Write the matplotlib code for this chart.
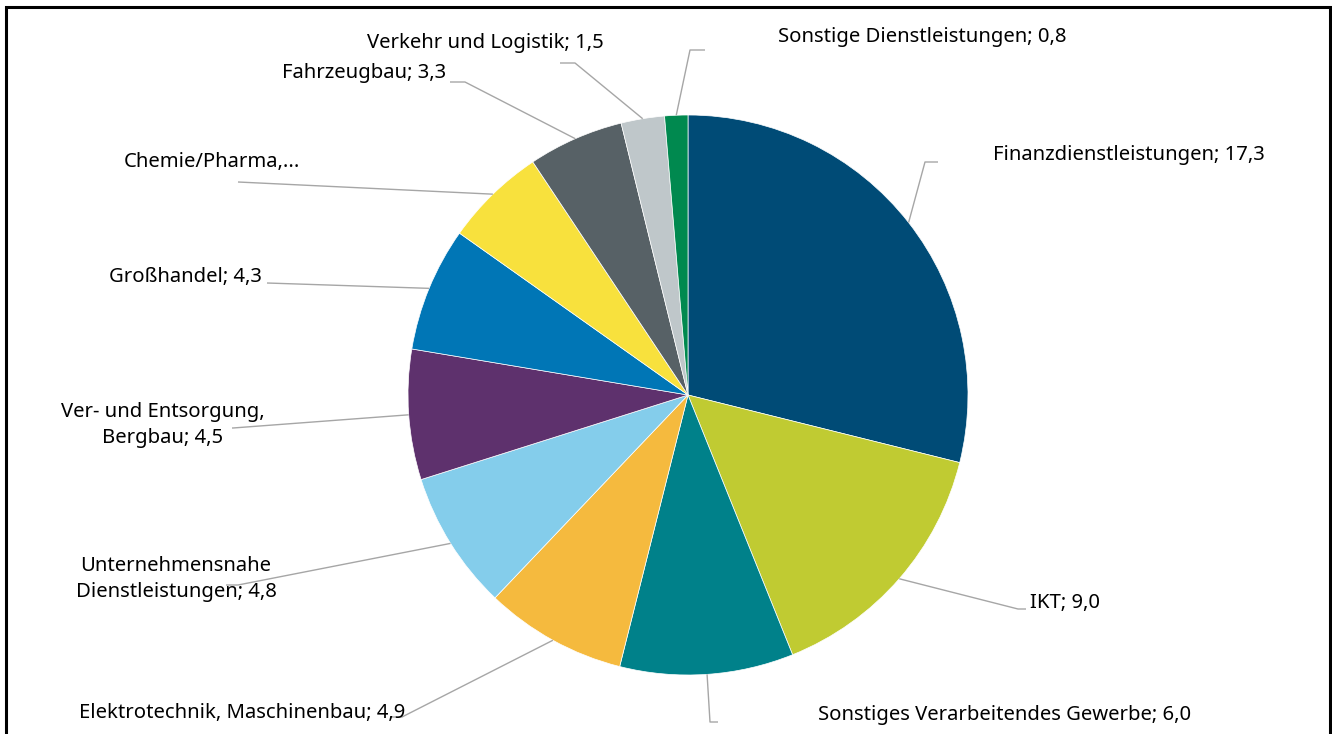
import numpy as np
import matplotlib
matplotlib.use('Agg')
import matplotlib.pyplot as plt
from matplotlib.patches import Rectangle

# Anteile nach Branche (Uhrzeigersinn ab 12 Uhr)
branchen = ['Finanzdienstleistungen', 'IKT', 'Sonstiges Verarbeitendes Gewerbe',
            'Elektrotechnik, Maschinenbau', 'Unternehmensnahe\nDienstleistungen',
            'Ver- und Entsorgung,\nBergbau', 'Großhandel', 'Chemie/Pharma',
            'Fahrzeugbau', 'Verkehr und Logistik', 'Sonstige Dienstleistungen']
werte = [17.3, 9.0, 6.0, 4.9, 4.8, 4.5, 4.3, 3.5, 3.3, 1.5, 0.8]
texte = ['Finanzdienstleistungen; 17,3', 'IKT; 9,0', 'Sonstiges Verarbeitendes Gewerbe; 6,0',
         'Elektrotechnik, Maschinenbau; 4,9', 'Unternehmensnahe\nDienstleistungen; 4,8',
         'Ver- und Entsorgung,\nBergbau; 4,5', 'Großhandel; 4,3', 'Chemie/Pharma,...',
         'Fahrzeugbau; 3,3', 'Verkehr und Logistik; 1,5', 'Sonstige Dienstleistungen; 0,8']
farben = ['#004B76', '#C0CB32', '#00818A', '#F5BA3E', '#84CDEB', '#5E316D',
          '#0076B6', '#F8E13D', '#576166', '#BFC7CA', '#00894F']

H = 734

# Layout in Pixeln (Bild-Koordinaten, y nach unten): Knick, Linienende, Textpunkt, Ausrichtung
knick = [(925, 162), (1018, 609), (710, 722), (402, 717), (238, 585), (233, 428),
         (267, 283), (238, 182), (465, 82), (575, 63), (690, 50)]
ende = [(938, 162), (1026, 609), (718, 722), (392, 717), (226, 585), (232, 428),
        (267, 283), (238, 182), (450, 82), (560, 63), (705, 50)]
textpos = [(993, 155, 'left'), (1030, 603, 'left'), (818, 715, 'left'),
           (405, 713, 'right'), (176, 579, 'center'), (163, 425, 'center'),
           (262, 277, 'right'), (300, 162, 'right'), (446, 73, 'right'),
           (604, 43, 'right'), (778, 37, 'left')]

plt.rcParams['font.family'] = ['Noto Sans', 'DejaVu Sans']

fig = plt.figure(figsize=(13.32, 7.34), dpi=100)
ax = fig.add_axes([0, 0, 1, 1])

wedges, _ = ax.pie(werte, colors=farben, startangle=90, counterclock=False,
                   radius=280, center=(688, H - 395),
                   wedgeprops={'edgecolor': 'white', 'linewidth': 0.5})

for w, k, e in zip(wedges, knick, ende):
    mid = np.deg2rad((w.theta1 + w.theta2) / 2)
    sx = w.center[0] + w.r * np.cos(mid)
    sy = w.center[1] + w.r * np.sin(mid)
    ax.plot([sx, k[0], e[0]], [sy, H - k[1], H - e[1]], color='#A6A6A6', lw=1.0,
            solid_capstyle='butt', zorder=1)

for t, (tx, ty, ha) in zip(texte, textpos):
    ax.text(tx, H - ty, t, ha=ha, va='center', fontsize=14.6, color='black',
            multialignment='center', linespacing=1.4)

ax.set_xlim(0, 1332)
ax.set_ylim(0, H)
ax.set_aspect('equal')
ax.axis('off')

# Rahmen
fig.patches.append(Rectangle((6 / 1332, -0.05), 1324 / 1332, (H - 7) / H + 0.05,
                             transform=fig.transFigure, fill=False,
                             edgecolor='black', linewidth=2.2))

fig.savefig('out.png', dpi=100)
